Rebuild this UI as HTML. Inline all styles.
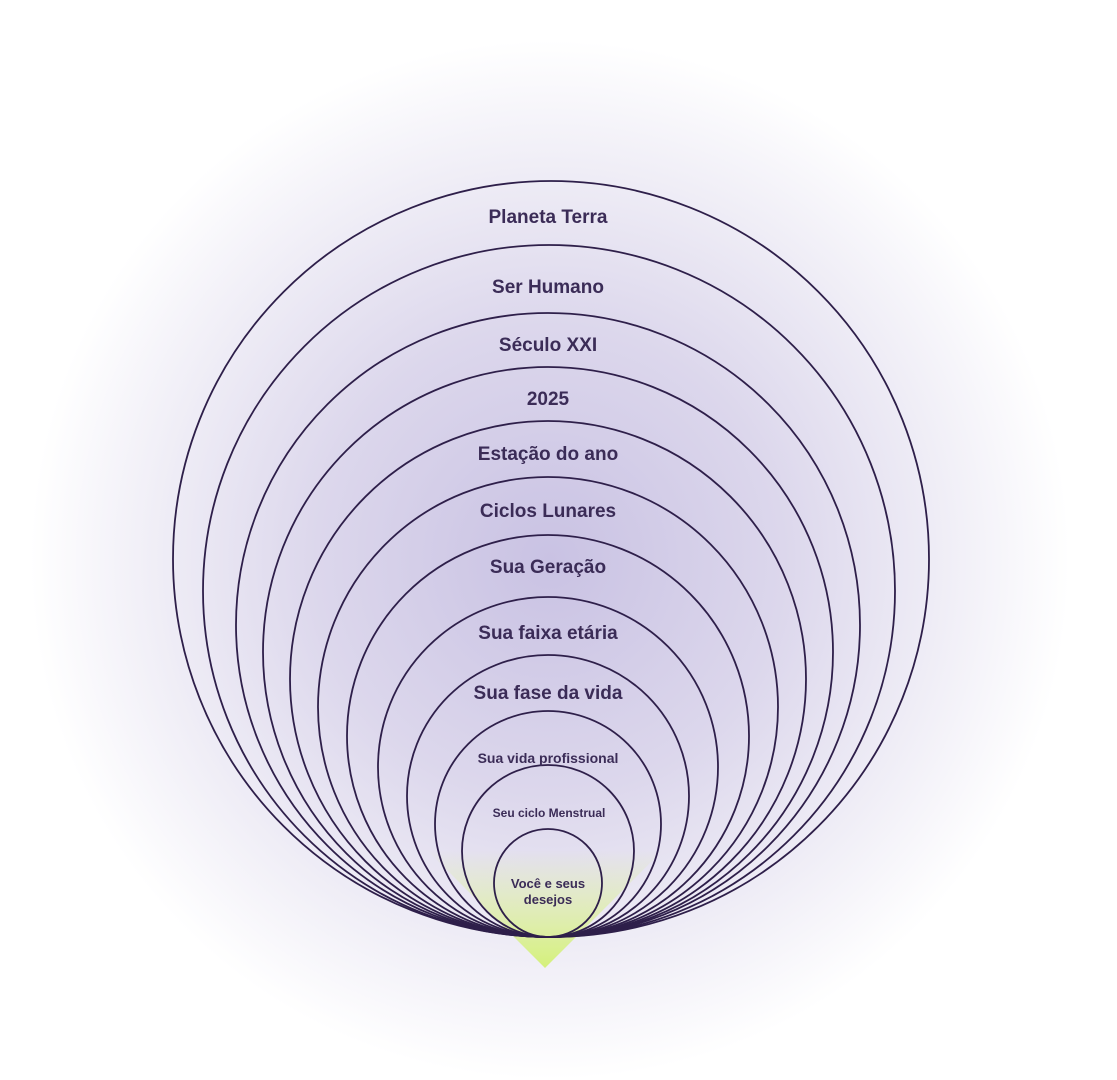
<!DOCTYPE html>
<html><head><meta charset="utf-8"><style>
html,body{margin:0;padding:0;background:#fff;}
svg{display:block}
text{font-family:"Liberation Sans",sans-serif;font-weight:bold;fill:#3b2c57;text-anchor:middle}
</style></head><body>
<svg width="1117" height="1080" viewBox="0 0 1117 1080" xmlns="http://www.w3.org/2000/svg">
<defs>
<radialGradient id="bg" cx="550" cy="560" r="520" gradientUnits="userSpaceOnUse">
<stop offset="0" stop-color="#c9c2e3"/>
<stop offset="0.45" stop-color="#dcd7ec"/>
<stop offset="0.75" stop-color="#efedf6"/>
<stop offset="1" stop-color="#ffffff"/>
</radialGradient>
<linearGradient id="gr" x1="0" y1="850" x2="0" y2="968" gradientUnits="userSpaceOnUse">
<stop offset="0" stop-color="#d9f08a" stop-opacity="0"/>
<stop offset="1" stop-color="#d4f07a" stop-opacity="1"/>
</linearGradient>
</defs>
<rect width="1117" height="1080" fill="url(#bg)"/>
<polygon points="428,851 662,851 545,968" fill="url(#gr)"/>
<g fill="none" stroke="#2e1f4a" stroke-width="1.8">
<circle cx="551" cy="559" r="378"/>
<circle cx="549" cy="591" r="346"/>
<circle cx="548" cy="625" r="312"/>
<circle cx="548" cy="652" r="285"/>
<circle cx="548" cy="679" r="258"/>
<circle cx="548" cy="707" r="230"/>
<circle cx="548" cy="736" r="201"/>
<circle cx="548" cy="767" r="170"/>
<circle cx="548" cy="796" r="141"/>
<circle cx="548" cy="824" r="113"/>
<circle cx="548" cy="851" r="86"/>
<circle cx="548" cy="883" r="54"/>
</g>
<text x="548" y="223" font-size="19">Planeta Terra</text>
<text x="548" y="293" font-size="19">Ser Humano</text>
<text x="548" y="351" font-size="19">Século XXI</text>
<text x="548" y="405" font-size="19">2025</text>
<text x="548" y="460" font-size="19">Estação do ano</text>
<text x="548" y="517" font-size="19">Ciclos Lunares</text>
<text x="548" y="573" font-size="19">Sua Geração</text>
<text x="548" y="639" font-size="19">Sua faixa etária</text>
<text x="548" y="699" font-size="19">Sua fase da vida</text>
<text x="548" y="763" font-size="14">Sua vida profissional</text>
<text x="549" y="817" font-size="12">Seu ciclo Menstrual</text>
<text x="548" y="888" font-size="13">Você e seus</text>
<text x="548" y="904" font-size="13">desejos</text>
</svg>
</body></html>
